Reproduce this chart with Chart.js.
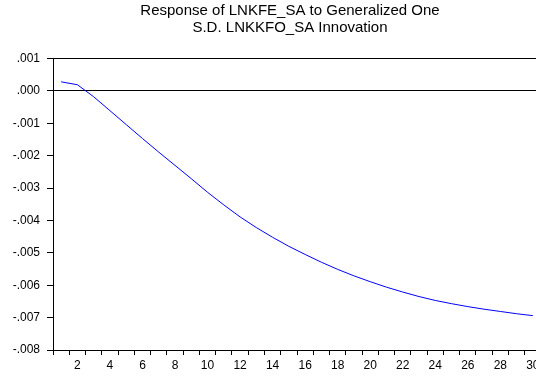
<!DOCTYPE html>
<html>
<head>
<meta charset="utf-8">
<script src="https://cdn.jsdelivr.net/npm/chart.js@4.4.1/dist/chart.umd.min.js"></script>
<style>
  html, body { margin: 0; padding: 0; background: #ffffff; overflow: hidden; }
  #wrap { width: 536px; height: 383px; overflow: hidden; }
  canvas { display: block; }
</style>
</head>
<body>
<div id="wrap"><canvas id="irf" width="580" height="383"></canvas></div>
<script>
// Impulse response horizon (periods)
const periods = Array.from({ length: 30 }, (_, i) => String(i + 1));

// Response of LNKFE_SA to a generalized one S.D. LNKKFO_SA shock
const response = [
  0.00028, 0.00019, -0.00018, -0.00061, -0.00104, -0.00147, -0.00189, -0.00230,
  -0.00271, -0.00313, -0.00352, -0.00389, -0.00422, -0.00452, -0.00480, -0.00505,
  -0.00529, -0.00551, -0.00571, -0.00589, -0.00606, -0.00621, -0.00635, -0.00647,
  -0.00657, -0.00666, -0.00674, -0.00681, -0.00688, -0.00694
];

// Value axis range and step
const yMin = -0.008;
const yMax = 0.001;
const yStep = 0.001;

const titleLines = [
  'Response of LNKFE_SA to Generalized One',
  'S.D. LNKKFO_SA Innovation'
];

const FONT = '"Liberation Sans", Arial, sans-serif';

function fmtTick(v) {
  if (Math.abs(v) < 1e-9) v = 0;
  return v.toFixed(3).replace('0.', '.');
}

// Two-line heading centred across the full figure width
const headingPlugin = {
  id: 'heading',
  afterDraw(chart) {
    const ctx = chart.ctx;
    ctx.save();
    ctx.fillStyle = '#000000';
    ctx.font = '15px ' + FONT;
    ctx.textAlign = 'center';
    ctx.textBaseline = 'alphabetic';
    const cx = chart.width / 2;
    titleLines.forEach((line, i) => ctx.fillText(line, cx, 15 + i * 17));
    ctx.restore();
  }
};

new Chart(document.getElementById('irf'), {
  type: 'line',
  data: {
    labels: periods,
    datasets: [{
      data: response,
      borderColor: '#0000ff',
      borderWidth: 1,
      pointRadius: 0,
      tension: 0,
      fill: false
    }]
  },
  plugins: [headingPlugin],
  options: {
    responsive: false,
    animation: false,
    devicePixelRatio: 1,
    layout: { padding: { left: 0, right: 39, top: 58.5, bottom: 0 } },
    plugins: {
      legend: { display: false },
      tooltip: { enabled: false },
      title: { display: false }
    },
    scales: {
      x: {
        type: 'category',
        offset: true,
        border: { display: true, color: '#000000', width: 1 },
        grid: {
          offset: true,
          drawOnChartArea: false,
          drawTicks: true,
          tickLength: 5,
          tickColor: '#000000',
          color: '#000000'
        },
        ticks: {
          autoSkip: false,
          maxRotation: 0,
          padding: 3,
          color: '#000000',
          font: { family: FONT, size: 12 },
          callback: function (value, index) {
            const n = index + 1;
            return n % 2 === 0 ? String(n) : '';
          }
        },
        afterFit: function (scale) { scale.height = 33; }
      },
      y: {
        min: yMin,
        max: yMax,
        border: { display: true, color: '#000000', width: 1 },
        grid: {
          drawOnChartArea: true,
          drawTicks: true,
          tickLength: 6,
          tickColor: '#000000',
          lineWidth: 1,
          color: function (ctx) {
            const v = ctx.tick ? ctx.tick.value : NaN;
            if (Math.abs(v) < 1e-9 || Math.abs(v - yMax) < 1e-9) return '#000000';
            return 'rgba(0,0,0,0)';
          }
        },
        ticks: {
          stepSize: yStep,
          padding: 7,
          color: '#000000',
          font: { family: FONT, size: 12 },
          callback: fmtTick
        },
        afterFit: function (scale) { scale.width = 53; }
      }
    }
  }
});
</script>
</body>
</html>
